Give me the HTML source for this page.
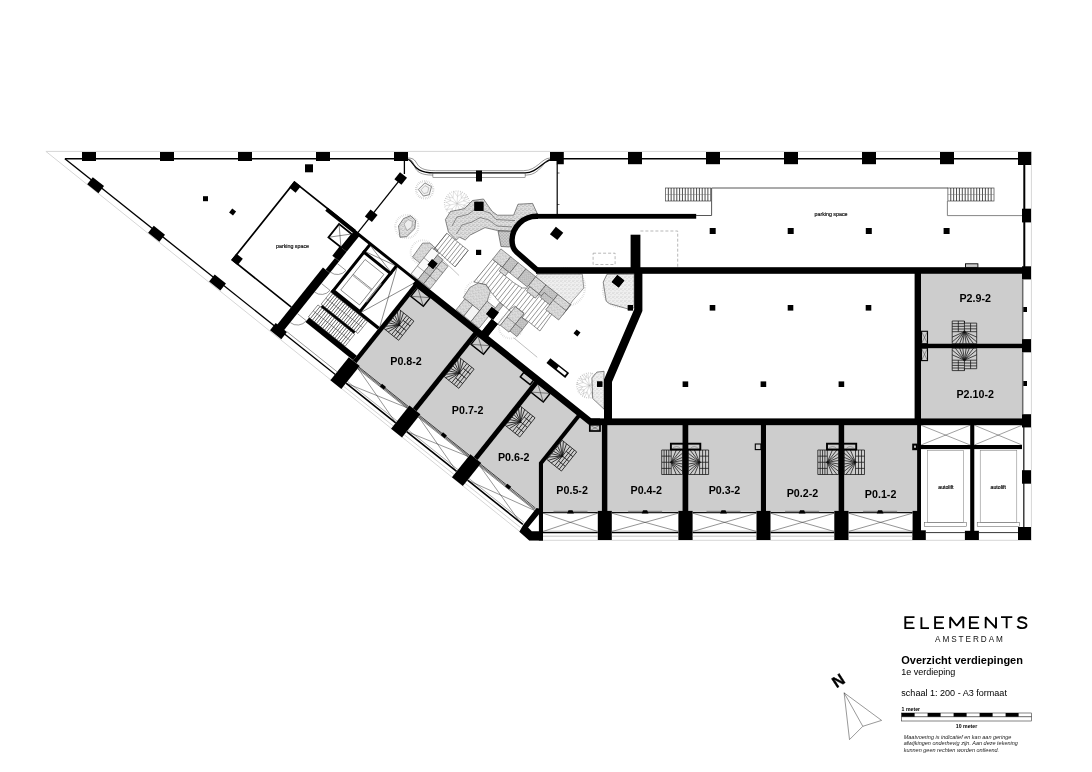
<!DOCTYPE html>
<html><head><meta charset="utf-8"><title>Overzicht verdiepingen</title>
<style>
html,body{margin:0;padding:0;background:#fff;}
body{width:1092px;height:772px;overflow:hidden;}
svg{display:block;font-family:"Liberation Sans",sans-serif;will-change:transform;transform:translateZ(0);}
</style></head><body>
<svg width="1092" height="772" viewBox="0 0 1092 772">
<rect width="1092" height="772" fill="#fff"/>
<rect x="921.00" y="273.80" width="101.50" height="69.90" fill="#cdcdcd" />
<rect x="921.00" y="348.20" width="101.50" height="70.20" fill="#cdcdcd" />
<rect x="607.40" y="425.20" width="75.10" height="86.80" fill="#cdcdcd" />
<rect x="688.30" y="425.20" width="72.60" height="86.80" fill="#cdcdcd" />
<rect x="766.00" y="425.20" width="72.60" height="86.80" fill="#cdcdcd" />
<rect x="844.20" y="425.20" width="72.90" height="86.80" fill="#cdcdcd" />
<g transform="translate(64.9,158.7) rotate(38.6)">
<rect x="355.50" y="-120.00" width="72.00" height="100.50" fill="#cdcdcd" />
<rect x="432.50" y="-120.00" width="73.00" height="100.50" fill="#cdcdcd" />
</g>
<polygon points="538.73,383.41 578.98,415.54 540.30,463.99 540.50,464.00 540.50,511.00 476.03,461.95" fill="#cdcdcd" stroke="none" stroke-width="0" />
<polygon points="541.00,512.00 541.00,464.00 540.30,463.99 578.98,415.54 589.00,423.00 602.00,423.00 602.00,512.00" fill="#cdcdcd" stroke="none" stroke-width="0" />
<!--GARDEN_START-->
<defs><pattern id="spk" width="4" height="4" patternUnits="userSpaceOnUse"><rect width="4" height="4" fill="#dedede"/><circle cx="1" cy="1" r="0.55" fill="#8a8a8a"/><circle cx="3" cy="2.6" r="0.5" fill="#999"/><circle cx="2.2" cy="0.3" r="0.35" fill="#aaa"/><circle cx="0.4" cy="3" r="0.35" fill="#b0b0b0"/></pattern><pattern id="spk2" width="3" height="3" patternUnits="userSpaceOnUse"><rect width="3" height="3" fill="#cccccc"/><circle cx="1" cy="1" r="0.55" fill="#808080"/><circle cx="2.4" cy="2.3" r="0.45" fill="#8c8c8c"/></pattern><pattern id="spk3" width="4" height="4" patternUnits="userSpaceOnUse"><rect width="4" height="4" fill="#efefef"/><circle cx="1" cy="1" r="0.5" fill="#a8a8a8"/><circle cx="3" cy="2.8" r="0.45" fill="#b4b4b4"/><circle cx="2.6" cy="0.6" r="0.3" fill="#bbb"/></pattern></defs>
<path d="M457.0,203.5 L463.7,205.1 M463.7,205.1 L469.7,202.1 M463.7,205.1 L468.3,206.1 M463.7,205.1 L466.5,210.5 M457.0,203.5 L462.7,207.4 M462.7,207.4 L468.9,206.6 M462.7,207.4 L467.6,210.3 M462.7,207.4 L464.0,213.9 M457.0,203.5 L459.5,209.9 M459.5,209.9 L465.6,212.0 M459.5,209.9 L461.7,215.4 M459.5,209.9 L457.3,214.8 M457.0,203.5 L455.3,210.2 M455.3,210.2 L458.1,216.3 M455.3,210.2 L454.0,215.1 M455.3,210.2 L450.5,213.6 M457.0,203.5 L452.4,208.6 M452.4,208.6 L452.7,215.2 M452.4,208.6 L449.3,213.2 M452.4,208.6 L446.0,209.7 M457.0,203.5 L450.3,204.9 M450.3,204.9 L446.5,210.0 M450.3,204.9 L445.3,205.8 M450.3,204.9 L445.7,201.8 M457.0,203.5 L450.7,200.7 M450.7,200.7 L445.6,202.7 M450.7,200.7 L446.0,198.5 M450.7,200.7 L448.7,195.3 M457.0,203.5 L453.0,197.9 M453.0,197.9 L446.8,197.0 M453.0,197.9 L450.3,193.7 M453.0,197.9 L453.6,191.3 M457.0,203.5 L457.5,196.6 M457.5,196.6 L453.9,191.4 M457.5,196.6 L457.9,191.8 M457.5,196.6 L462.1,193.0 M457.0,203.5 L461.4,198.2 M461.4,198.2 L460.8,191.9 M461.4,198.2 L464.6,193.5 M461.4,198.2 L467.6,197.3 M457.0,203.5 L463.4,200.9 M463.4,200.9 L466.4,195.2 M463.4,200.9 L468.4,198.7 M463.4,200.9 L469.8,203.1" fill="none" stroke="#b5b5b5" stroke-width="0.4" />
<circle cx="457" cy="203.5" r="12.5" fill="none" stroke="#b5b5b5" stroke-width="1.2" stroke-dasharray="0.6 1.6"/>
<path d="M589.4,385.5 L596.3,385.8 M596.3,385.8 L600.5,381.9 M596.3,385.8 L601.6,386.1 M596.3,385.8 L600.0,389.9 M589.4,385.5 L594.6,390.0 M594.6,390.0 L601.0,389.6 M594.6,390.0 L598.0,392.9 M594.6,390.0 L595.7,396.2 M589.4,385.5 L591.3,392.1 M591.3,392.1 L596.6,396.1 M591.3,392.1 L592.6,397.2 M591.3,392.1 L588.5,397.2 M589.4,385.5 L587.0,391.9 M587.0,391.9 L589.3,397.7 M587.0,391.9 L584.8,396.8 M587.0,391.9 L581.3,394.4 M589.4,385.5 L584.1,389.8 M584.1,389.8 L583.3,395.4 M584.1,389.8 L580.4,393.7 M584.1,389.8 L578.3,389.8 M589.4,385.5 L582.7,386.9 M582.7,386.9 L578.4,392.4 M582.7,386.9 L578.2,387.8 M582.7,386.9 L576.5,383.8 M589.4,385.5 L583.2,382.5 M583.2,382.5 L577.0,384.2 M583.2,382.5 L579.3,379.7 M583.2,382.5 L580.7,377.1 M589.4,385.5 L585.5,379.8 M585.5,379.8 L580.2,378.7 M585.5,379.8 L582.8,375.7 M585.5,379.8 L586.6,374.6 M589.4,385.5 L588.5,378.7 M588.5,378.7 L583.5,374.6 M588.5,378.7 L587.8,373.9 M588.5,378.7 L592.0,373.0 M589.4,385.5 L593.5,380.0 M593.5,380.0 L593.0,374.4 M593.5,380.0 L597.2,376.3 M593.5,380.0 L599.3,379.1 M589.4,385.5 L595.4,382.1 M595.4,382.1 L597.1,376.6 M595.4,382.1 L599.3,379.7 M595.4,382.1 L600.7,383.3" fill="none" stroke="#a8a8a8" stroke-width="0.4" />
<circle cx="589.4" cy="385.5" r="12.5" fill="none" stroke="#a8a8a8" stroke-width="1.2" stroke-dasharray="0.6 1.6"/>
<circle cx="424.7" cy="189.8" r="8.6" fill="none" stroke="#bbb" stroke-width="2.2" stroke-dasharray="0.5 1.3"/>
<polygon points="418.30,189.50 424.90,182.90 431.50,186.60 429.30,194.70 423.40,196.10" fill="#f2f2f2" stroke="#3a3a3a" stroke-width="0.6" />
<polygon points="421.00,189.80 425.00,185.60 428.80,187.80 427.60,192.60 423.80,193.60" fill="none" stroke="#777" stroke-width="0.4" />
<circle cx="406.8" cy="226.5" r="11.5" fill="none" stroke="#ccc" stroke-width="2.2" stroke-dasharray="0.5 1.3"/>
<polygon points="398.50,226.00 403.50,218.60 410.50,215.70 415.60,220.30 414.90,228.60 406.80,236.60 400.00,237.30" fill="url(#spk)" stroke="#3a3a3a" stroke-width="0.6" />
<polygon points="404.00,224.00 408.00,219.50 412.40,221.50 411.80,227.00 407.00,230.50" fill="#eee" stroke="#666" stroke-width="0.4" />
<polygon points="448.40,232.00 445.40,219.60 450.50,211.50 464.50,208.60 472.50,200.50 483.50,199.00 488.60,206.40 492.30,211.50 497.40,215.20 513.60,215.20 518.00,204.20 532.60,203.40 537.00,213.00 537.00,216.00 520.00,222.00 514.00,231.30 497.40,230.50 485.00,227.60 470.30,235.00 465.20,240.00 459.30,237.10 456.40,240.00" fill="url(#spk)" stroke="#3a3a3a" stroke-width="0.6" />
<polyline points="452.00,226.00 457.00,217.00 468.00,214.50 476.00,208.50 490.00,213.00 496.00,219.50 515.00,220.50" fill="none" stroke="#3a3a3a" stroke-width="0.5" />
<polyline points="456.40,234.00 462.00,225.00 472.00,222.00 480.00,217.50 489.00,220.00 497.00,226.00 512.00,227.00" fill="none" stroke="#3a3a3a" stroke-width="0.5" />
<polygon points="498.00,231.00 514.00,231.50 512.50,243.00 509.50,247.00 501.00,246.50" fill="url(#spk2)" stroke="#3a3a3a" stroke-width="0.6" />
<g transform="translate(64.9,158.7) rotate(38.6)">
<circle cx="338" cy="-150" r="12" fill="none" stroke="#ccc" stroke-width="2" stroke-dasharray="0.5 1.4"/>
<polygon points="333,-140 332.2,-157.2 337.8,-161.7 348.6,-161.1 349,-140" fill="url(#spk)" stroke="#3a3a3a" stroke-width="0.5"/>
<rect x="342.4" y="-159.5" width="8.90" height="33.50" fill="#fafafa" stroke="#3a3a3a" stroke-width="0.5"/>
<rect x="351.3" y="-157" width="7.20" height="31.00" fill="url(#spk2)" stroke="#3a3a3a" stroke-width="0.5"/>
<rect x="358.5" y="-155" width="8.10" height="29.00" fill="url(#spk)" stroke="#3a3a3a" stroke-width="0.5"/>
<line x1="342.40" y1="-136.00" x2="366.60" y2="-136.00" stroke="#3a3a3a" stroke-width="0.4" />
<line x1="342.40" y1="-146.50" x2="366.60" y2="-146.50" stroke="#3a3a3a" stroke-width="0.4" />
<line x1="345.00" y1="-180.00" x2="345.00" y2="-158.80" stroke="#3a3a3a" stroke-width="0.5" />
<line x1="348.42" y1="-180.00" x2="348.42" y2="-158.80" stroke="#3a3a3a" stroke-width="0.5" />
<line x1="351.84" y1="-180.00" x2="351.84" y2="-158.80" stroke="#3a3a3a" stroke-width="0.5" />
<line x1="355.26" y1="-180.00" x2="355.26" y2="-158.80" stroke="#3a3a3a" stroke-width="0.5" />
<line x1="358.68" y1="-180.00" x2="358.68" y2="-158.80" stroke="#3a3a3a" stroke-width="0.5" />
<line x1="362.10" y1="-180.00" x2="362.10" y2="-158.80" stroke="#3a3a3a" stroke-width="0.5" />
<line x1="365.52" y1="-180.00" x2="365.52" y2="-158.80" stroke="#3a3a3a" stroke-width="0.5" />
<line x1="368.94" y1="-180.00" x2="368.94" y2="-158.80" stroke="#3a3a3a" stroke-width="0.5" />
<line x1="372.36" y1="-180.00" x2="372.36" y2="-158.80" stroke="#3a3a3a" stroke-width="0.5" />
<polygon points="345,-180 372.4,-180 372.4,-158.8 345,-160.5" fill="none" stroke="#3a3a3a" stroke-width="0.5"/>
<line x1="350.50" y1="-157.30" x2="381.00" y2="-154.60" stroke="#777" stroke-width="0.4" />
<clipPath id="dk2"><polygon points="396.5,-158.8 397.0,-188.1 409.6,-188.2 415.8,-187.6 417.2,-183.1 427.8,-183.1 438.1,-184.3 443.3,-188.4 454.7,-188.3 458.1,-194.6 469.8,-194.0 477.2,-190.1 478.7,-161.7 463.1,-161.9 456.7,-161.0 454.9,-165.9 443.4,-165.3 441.5,-158.8 428.6,-159.1 415.2,-161.8 407.7,-164.2 400.6,-160.7"/></clipPath><g clip-path="url(#dk2)">
<line x1="396.50" y1="-200.00" x2="396.50" y2="-150.00" stroke="#3a3a3a" stroke-width="0.5" />
<line x1="400.25" y1="-200.00" x2="400.25" y2="-150.00" stroke="#3a3a3a" stroke-width="0.5" />
<line x1="404.00" y1="-200.00" x2="404.00" y2="-150.00" stroke="#3a3a3a" stroke-width="0.5" />
<line x1="407.75" y1="-200.00" x2="407.75" y2="-150.00" stroke="#3a3a3a" stroke-width="0.5" />
<line x1="411.50" y1="-200.00" x2="411.50" y2="-150.00" stroke="#3a3a3a" stroke-width="0.5" />
<line x1="415.25" y1="-200.00" x2="415.25" y2="-150.00" stroke="#3a3a3a" stroke-width="0.5" />
<line x1="419.00" y1="-200.00" x2="419.00" y2="-150.00" stroke="#3a3a3a" stroke-width="0.5" />
<line x1="422.75" y1="-200.00" x2="422.75" y2="-150.00" stroke="#3a3a3a" stroke-width="0.5" />
<line x1="426.50" y1="-200.00" x2="426.50" y2="-150.00" stroke="#3a3a3a" stroke-width="0.5" />
<line x1="430.25" y1="-200.00" x2="430.25" y2="-150.00" stroke="#3a3a3a" stroke-width="0.5" />
<line x1="434.00" y1="-200.00" x2="434.00" y2="-150.00" stroke="#3a3a3a" stroke-width="0.5" />
<line x1="437.75" y1="-200.00" x2="437.75" y2="-150.00" stroke="#3a3a3a" stroke-width="0.5" />
<line x1="441.50" y1="-200.00" x2="441.50" y2="-150.00" stroke="#3a3a3a" stroke-width="0.5" />
<line x1="445.25" y1="-200.00" x2="445.25" y2="-150.00" stroke="#3a3a3a" stroke-width="0.5" />
<line x1="449.00" y1="-200.00" x2="449.00" y2="-150.00" stroke="#3a3a3a" stroke-width="0.5" />
<line x1="452.75" y1="-200.00" x2="452.75" y2="-150.00" stroke="#3a3a3a" stroke-width="0.5" />
<line x1="456.50" y1="-200.00" x2="456.50" y2="-150.00" stroke="#3a3a3a" stroke-width="0.5" />
<line x1="460.25" y1="-200.00" x2="460.25" y2="-150.00" stroke="#3a3a3a" stroke-width="0.5" />
<line x1="464.00" y1="-200.00" x2="464.00" y2="-150.00" stroke="#3a3a3a" stroke-width="0.5" />
<line x1="467.75" y1="-200.00" x2="467.75" y2="-150.00" stroke="#3a3a3a" stroke-width="0.5" />
<line x1="471.50" y1="-200.00" x2="471.50" y2="-150.00" stroke="#3a3a3a" stroke-width="0.5" />
<line x1="475.25" y1="-200.00" x2="475.25" y2="-150.00" stroke="#3a3a3a" stroke-width="0.5" />
<line x1="479.00" y1="-200.00" x2="479.00" y2="-150.00" stroke="#3a3a3a" stroke-width="0.5" />
</g>
<polygon points="396.5,-158.8 397.0,-188.1 409.6,-188.2 415.8,-187.6 417.2,-183.1 427.8,-183.1 438.1,-184.3 443.3,-188.4 454.7,-188.3 458.1,-194.6 469.8,-194.0 477.2,-190.1 478.7,-161.7 463.1,-161.9 456.7,-161.0 454.9,-165.9 443.4,-165.3 441.5,-158.8 428.6,-159.1 415.2,-161.8 407.7,-164.2 400.6,-160.7" fill="none" stroke="#3a3a3a" stroke-width="0.5"/>
<rect x="397" y="-201.5" width="12.60" height="13.20" fill="url(#spk)" stroke="#3a3a3a" stroke-width="0.5"/>
<rect x="409.6" y="-201.5" width="9.40" height="13.20" fill="url(#spk2)" stroke="#3a3a3a" stroke-width="0.5"/>
<rect x="419" y="-201.5" width="10.00" height="13.20" fill="url(#spk)" stroke="#3a3a3a" stroke-width="0.5"/>
<rect x="429" y="-201.5" width="12.60" height="13.20" fill="url(#spk2)" stroke="#3a3a3a" stroke-width="0.5"/>
<rect x="441.6" y="-201.5" width="13.10" height="11.50" fill="url(#spk)" stroke="#3a3a3a" stroke-width="0.5"/>
<rect x="454.7" y="-201.5" width="15.30" height="11.50" fill="url(#spk2)" stroke="#3a3a3a" stroke-width="0.5"/>
<rect x="470" y="-201.5" width="16.50" height="13.20" fill="url(#spk)" stroke="#3a3a3a" stroke-width="0.5"/>
<rect x="409.6" y="-188.2" width="7.60" height="5.10" fill="url(#spk)" stroke="#3a3a3a" stroke-width="0.5"/>
<rect x="443.3" y="-190" width="11.40" height="5.50" fill="url(#spk)" stroke="#3a3a3a" stroke-width="0.5"/>
<rect x="458" y="-194.5" width="12.00" height="6.20" fill="url(#spk2)" stroke="#3a3a3a" stroke-width="0.5"/>
<rect x="470" y="-194" width="16.50" height="12.00" fill="url(#spk)" stroke="#3a3a3a" stroke-width="0.5"/>
<circle cx="407" cy="-152" r="13" fill="none" stroke="#ccc" stroke-width="2" stroke-dasharray="0.5 1.4"/>
<polygon points="398,-140 396.8,-152 400.6,-160.7 407.7,-164.2 415.2,-161.8 419,-152 419,-140" fill="url(#spk)" stroke="#3a3a3a" stroke-width="0.5"/>
<rect x="400" y="-140" width="10.00" height="14.00" fill="url(#spk)" stroke="#3a3a3a" stroke-width="0.5"/>
<rect x="410" y="-140" width="9.00" height="14.00" fill="#f4f4f4" stroke="#3a3a3a" stroke-width="0.5"/>
<rect x="419" y="-152" width="10.50" height="26.00" fill="url(#spk)" stroke="#3a3a3a" stroke-width="0.5"/>
<rect x="429.5" y="-158.8" width="4.50" height="17.80" fill="url(#spk2)" stroke="#3a3a3a" stroke-width="0.5"/>
<circle cx="453" cy="-147" r="12" fill="none" stroke="#ccc" stroke-width="2" stroke-dasharray="0.5 1.4"/>
<rect x="441.5" y="-158.8" width="2.80" height="17.80" fill="#f6f6f6" stroke="#3a3a3a" stroke-width="0.5"/>
<rect x="444.3" y="-165.3" width="11.00" height="23.80" fill="url(#spk)" stroke="#3a3a3a" stroke-width="0.5"/>
<rect x="455.3" y="-161" width="8.80" height="18.00" fill="url(#spk2)" stroke="#3a3a3a" stroke-width="0.5"/>
<line x1="444.30" y1="-152.00" x2="464.00" y2="-152.00" stroke="#3a3a3a" stroke-width="0.4" />
<line x1="463.00" y1="-140.00" x2="493.00" y2="-139.50" stroke="#888" stroke-width="0.5" />
</g>
<circle cx="566" cy="287" r="19" fill="none" stroke="#ccc" stroke-width="2.2" stroke-dasharray="0.5 1.3"/>
<polygon points="537.70,274.20 582.30,274.20 583.80,288.10 572.80,300.50 566.14,310.60 570.82,304.74 535.73,276.73" fill="url(#spk3)" stroke="#3a3a3a" stroke-width="0.5" />
<circle cx="620" cy="290" r="17" fill="none" stroke="#ccc" stroke-width="2.2" stroke-dasharray="0.5 1.3"/>
<polygon points="603.20,282.10 606.20,301.10 609.40,303.60 629.20,309.30 634.20,307.70 634.20,274.20 607.00,274.20" fill="url(#spk3)" stroke="#3a3a3a" stroke-width="0.6" />
<polygon points="591.90,377.90 596.90,372.10 604.00,371.30 604.00,409.20 592.70,398.50" fill="url(#spk3)" stroke="#3a3a3a" stroke-width="0.6" />
<!--GARDEN_END-->
<polyline points="529.00,540.30 1031.40,540.30 1031.40,151.40 45.90,151.40 519.69,531.48" fill="none" stroke="#d6d6d6" stroke-width="1" />
<line x1="64.90" y1="158.70" x2="404.50" y2="158.70" stroke="#000" stroke-width="1.5" />
<line x1="556.00" y1="158.70" x2="1024.00" y2="158.70" stroke="#000" stroke-width="1.5" />
<rect x="82.00" y="152.00" width="14.00" height="9.00" fill="#000" />
<rect x="160.00" y="152.00" width="14.00" height="9.00" fill="#000" />
<rect x="238.00" y="152.00" width="14.00" height="9.00" fill="#000" />
<rect x="316.00" y="152.00" width="14.00" height="9.00" fill="#000" />
<rect x="394.00" y="152.00" width="14.00" height="9.00" fill="#000" />
<rect x="628.00" y="152.00" width="14.00" height="12.20" fill="#000" />
<rect x="706.00" y="152.00" width="14.00" height="12.20" fill="#000" />
<rect x="784.00" y="152.00" width="14.00" height="12.20" fill="#000" />
<rect x="862.00" y="152.00" width="14.00" height="12.20" fill="#000" />
<rect x="940.00" y="152.00" width="14.00" height="12.20" fill="#000" />
<polygon points="550.00,152.00 563.80,152.00 563.80,164.20 556.50,164.20 556.50,161.00 550.00,161.00" fill="#000" stroke="none" stroke-width="0" />
<rect x="1018.00" y="152.00" width="13.20" height="13.00" fill="#000" />
<path d="M404.5,158.7 C416.0,158.7 409.5,172.9 434,172.9 L525,172.9 C538.5,172.9 543,158.7 556,158.7" fill="none" stroke="#000" stroke-width="1.3" />
<path d="M408,158.04 C421.0,158.04 411.0,170.70000000000002 435.5,170.70000000000002 L523.5,170.70000000000002 C537.0,170.70000000000002 541.5,158.04 550,158.04" fill="none" stroke="#333" stroke-width="0.5" />
<path d="M408,159.35999999999999 C418.0,159.35999999999999 408.0,175.1 432.5,175.1 L526.5,175.1 C540.0,175.1 544.5,159.35999999999999 550,159.35999999999999" fill="none" stroke="#333" stroke-width="0.5" />
<rect x="432.9" y="173.7" width="92.2" height="3.8" fill="#fff" stroke="#444" stroke-width="0.5"/>
<rect x="476.00" y="170.50" width="6.00" height="11.00" fill="#000" />
<line x1="557.20" y1="164.00" x2="557.20" y2="214.00" stroke="#000" stroke-width="1.2" />
<line x1="557.10" y1="173.00" x2="559.50" y2="173.00" stroke="#000" stroke-width="0.6" />
<line x1="557.10" y1="204.50" x2="559.50" y2="204.50" stroke="#000" stroke-width="0.6" />
<line x1="404.40" y1="161.00" x2="404.40" y2="174.00" stroke="#000" stroke-width="1.3" />
<line x1="1024.30" y1="165.00" x2="1024.30" y2="267.00" stroke="#000" stroke-width="2" />
<line x1="1023.80" y1="427.00" x2="1023.80" y2="527.00" stroke="#222" stroke-width="1.3" />
<rect x="1022.00" y="208.70" width="9.00" height="13.70" fill="#000" />
<rect x="1022.00" y="266.30" width="9.00" height="13.10" fill="#000" />
<rect x="1022.00" y="339.10" width="9.00" height="13.20" fill="#000" />
<rect x="1022.00" y="414.20" width="9.00" height="13.20" fill="#000" />
<rect x="1022.00" y="470.20" width="9.00" height="13.50" fill="#000" />
<rect x="1018.00" y="527.00" width="13.00" height="13.00" fill="#000" />
<rect x="1022.50" y="307.00" width="4.50" height="5.00" fill="#000" />
<rect x="1022.50" y="381.00" width="4.50" height="5.00" fill="#000" />
<line x1="1022.70" y1="279.00" x2="1022.70" y2="339.00" stroke="#6a6a6a" stroke-width="1.5" />
<line x1="1022.70" y1="352.00" x2="1022.70" y2="414.00" stroke="#6a6a6a" stroke-width="1.5" />
<rect x="536.00" y="267.20" width="486.50" height="6.60" fill="#000" />
<rect x="537.00" y="213.90" width="159.20" height="4.80" fill="#000" />
<path d="M538,216.3 H537 A24.6,24.6 0 0 0 512,240 C512,246 513,249 516.5,252 L538.5,271.3" fill="none" stroke="#000" stroke-width="5.5" stroke-linecap="butt"/>
<rect x="630.60" y="234.70" width="9.80" height="33.30" fill="#000" />
<polygon points="634.20,273.00 642.40,273.00 642.40,311.00 612.00,382.00 612.00,419.00 604.00,419.00 604.00,379.60 634.20,309.30" fill="#000" stroke="none" stroke-width="0" />
<rect x="914.60" y="273.00" width="6.40" height="146.00" fill="#000" />
<rect x="589.00" y="418.40" width="433.50" height="6.80" fill="#000" />
<rect x="921.00" y="343.70" width="101.50" height="4.50" fill="#000" />
<rect x="601.90" y="425.00" width="5.50" height="87.00" fill="#000" />
<rect x="682.50" y="425.00" width="5.80" height="87.00" fill="#000" />
<rect x="760.90" y="425.00" width="5.10" height="87.00" fill="#000" />
<rect x="838.60" y="425.00" width="5.60" height="87.00" fill="#000" />
<rect x="917.10" y="425.00" width="3.90" height="106.00" fill="#000" />
<rect x="597.80" y="510.90" width="14.00" height="29.10" fill="#000" />
<rect x="678.40" y="510.90" width="14.20" height="29.10" fill="#000" />
<rect x="756.50" y="510.90" width="14.00" height="29.10" fill="#000" />
<rect x="834.30" y="510.90" width="14.20" height="29.10" fill="#000" />
<rect x="912.60" y="510.90" width="8.40" height="29.10" fill="#000" />
<rect x="912.60" y="530.30" width="13.20" height="9.70" fill="#000" />
<rect x="970.20" y="425.00" width="4.10" height="106.00" fill="#000" />
<rect x="964.90" y="530.80" width="14.00" height="9.20" fill="#000" />
<rect x="921.00" y="445.00" width="101.00" height="4.10" fill="#000" />
<g transform="translate(64.9,158.7) rotate(38.6)">
<line x1="0.00" y1="0.00" x2="346.00" y2="0.00" stroke="#000" stroke-width="1.35" />
<rect x="33.30" y="-3.00" width="14.40" height="9.00" fill="#000" />
<rect x="111.30" y="-3.00" width="14.40" height="9.00" fill="#000" />
<rect x="189.30" y="-3.00" width="14.40" height="9.00" fill="#000" />
<rect x="267.30" y="-3.00" width="14.40" height="9.00" fill="#000" />
<rect x="345.70" y="-22.00" width="14.00" height="29.50" fill="#000" />
<rect x="423.30" y="-22.00" width="14.00" height="29.50" fill="#000" />
<rect x="501.20" y="-22.00" width="14.00" height="29.50" fill="#000" />
<rect x="269.50" y="-76.00" width="8.80" height="76.00" fill="#000" />
<rect x="273.00" y="-91.00" width="5.30" height="15.00" fill="#000" />
<rect x="269.50" y="-103.00" width="8.80" height="12.00" fill="#000" />
<rect x="271.20" y="-125.00" width="7.10" height="22.00" fill="#000" />
<polyline points="272.00,-124.90 194.00,-124.90 194.00,-25.30 269.50,-25.30" fill="none" stroke="#000" stroke-width="1.7" />
<rect x="236.00" y="-125.70" width="36.00" height="4.00" fill="#000" />
<rect x="193.2" y="-125.7" width="8.3" height="8.3"/>
<rect x="193.2" y="-32.8" width="8.3" height="8.3"/>
<rect x="255" y="-120" width="16.5" height="17" fill="#fff" stroke="#000" stroke-width="1.8"/>
<line x1="255.00" y1="-120.00" x2="271.00" y2="-103.00" stroke="#2a2a2a" stroke-width="0.5" />
<line x1="255.00" y1="-103.00" x2="271.00" y2="-120.00" stroke="#2a2a2a" stroke-width="0.5" />
<line x1="275.00" y1="-125.00" x2="275.00" y2="-194.00" stroke="#000" stroke-width="1.3" />
<rect x="270.5" y="-151" width="9" height="9"/>
<rect x="270.3" y="-198.5" width="9" height="9"/>
<rect x="272.00" y="-125.50" width="80.00" height="3.00" fill="#000" />
<!--UPPERWALL-->
<path d="M292,-123 V-64.5 H326 V-123" fill="none" stroke="#000" stroke-width="3" />
<rect x="290.50" y="-115.00" width="37.00" height="3.00" fill="#000" />
<line x1="293.50" y1="-122.50" x2="324.50" y2="-115.00" stroke="#2a2a2a" stroke-width="0.5" />
<line x1="293.50" y1="-115.00" x2="324.50" y2="-122.50" stroke="#2a2a2a" stroke-width="0.5" />
<rect x="297.5" y="-108.5" width="24" height="39" fill="none" stroke="#2a2a2a" stroke-width="0.5"/>
<line x1="297.50" y1="-89.50" x2="321.50" y2="-89.50" stroke="#2a2a2a" stroke-width="0.5" />
<line x1="297.50" y1="-88.30" x2="321.50" y2="-88.30" stroke="#2a2a2a" stroke-width="0.4" />
<line x1="325.00" y1="-100.00" x2="325.00" y2="-76.00" stroke="#888" stroke-width="1.2" />
<line x1="327.50" y1="-122.00" x2="351.00" y2="-65.00" stroke="#2a2a2a" stroke-width="0.5" />
<line x1="327.50" y1="-65.00" x2="351.00" y2="-122.00" stroke="#2a2a2a" stroke-width="0.5" />
<rect x="290.50" y="-65.00" width="60.50" height="3.50" fill="#000" />
<rect x="292.50" y="-46.20" width="42.50" height="2.60" fill="#000" />
<rect x="290.00" y="-28.20" width="61.00" height="5.80" fill="#000" />
<rect x="291" y="-61.5" width="47" height="15.3" fill="none" stroke="#2a2a2a" stroke-width="0.5"/>
<rect x="289" y="-43.6" width="47" height="15.4" fill="none" stroke="#2a2a2a" stroke-width="0.5"/>
<line x1="293.61" y1="-61.50" x2="293.61" y2="-46.20" stroke="#111" stroke-width="0.6" />
<line x1="296.22" y1="-61.50" x2="296.22" y2="-46.20" stroke="#111" stroke-width="0.6" />
<line x1="298.83" y1="-61.50" x2="298.83" y2="-46.20" stroke="#111" stroke-width="0.6" />
<line x1="301.44" y1="-61.50" x2="301.44" y2="-46.20" stroke="#111" stroke-width="0.6" />
<line x1="304.06" y1="-61.50" x2="304.06" y2="-46.20" stroke="#111" stroke-width="0.6" />
<line x1="306.67" y1="-61.50" x2="306.67" y2="-46.20" stroke="#111" stroke-width="0.6" />
<line x1="309.28" y1="-61.50" x2="309.28" y2="-46.20" stroke="#111" stroke-width="0.6" />
<line x1="311.89" y1="-61.50" x2="311.89" y2="-46.20" stroke="#111" stroke-width="0.6" />
<line x1="314.50" y1="-61.50" x2="314.50" y2="-46.20" stroke="#111" stroke-width="0.6" />
<line x1="317.11" y1="-61.50" x2="317.11" y2="-46.20" stroke="#111" stroke-width="0.6" />
<line x1="319.72" y1="-61.50" x2="319.72" y2="-46.20" stroke="#111" stroke-width="0.6" />
<line x1="322.33" y1="-61.50" x2="322.33" y2="-46.20" stroke="#111" stroke-width="0.6" />
<line x1="324.94" y1="-61.50" x2="324.94" y2="-46.20" stroke="#111" stroke-width="0.6" />
<line x1="327.56" y1="-61.50" x2="327.56" y2="-46.20" stroke="#111" stroke-width="0.6" />
<line x1="330.17" y1="-61.50" x2="330.17" y2="-46.20" stroke="#111" stroke-width="0.6" />
<line x1="332.78" y1="-61.50" x2="332.78" y2="-46.20" stroke="#111" stroke-width="0.6" />
<line x1="335.39" y1="-61.50" x2="335.39" y2="-46.20" stroke="#111" stroke-width="0.6" />
<line x1="291.61" y1="-43.60" x2="291.61" y2="-28.20" stroke="#111" stroke-width="0.6" />
<line x1="294.22" y1="-43.60" x2="294.22" y2="-28.20" stroke="#111" stroke-width="0.6" />
<line x1="296.83" y1="-43.60" x2="296.83" y2="-28.20" stroke="#111" stroke-width="0.6" />
<line x1="299.44" y1="-43.60" x2="299.44" y2="-28.20" stroke="#111" stroke-width="0.6" />
<line x1="302.06" y1="-43.60" x2="302.06" y2="-28.20" stroke="#111" stroke-width="0.6" />
<line x1="304.67" y1="-43.60" x2="304.67" y2="-28.20" stroke="#111" stroke-width="0.6" />
<line x1="307.28" y1="-43.60" x2="307.28" y2="-28.20" stroke="#111" stroke-width="0.6" />
<line x1="309.89" y1="-43.60" x2="309.89" y2="-28.20" stroke="#111" stroke-width="0.6" />
<line x1="312.50" y1="-43.60" x2="312.50" y2="-28.20" stroke="#111" stroke-width="0.6" />
<line x1="315.11" y1="-43.60" x2="315.11" y2="-28.20" stroke="#111" stroke-width="0.6" />
<line x1="317.72" y1="-43.60" x2="317.72" y2="-28.20" stroke="#111" stroke-width="0.6" />
<line x1="320.33" y1="-43.60" x2="320.33" y2="-28.20" stroke="#111" stroke-width="0.6" />
<line x1="322.94" y1="-43.60" x2="322.94" y2="-28.20" stroke="#111" stroke-width="0.6" />
<line x1="325.56" y1="-43.60" x2="325.56" y2="-28.20" stroke="#111" stroke-width="0.6" />
<line x1="328.17" y1="-43.60" x2="328.17" y2="-28.20" stroke="#111" stroke-width="0.6" />
<line x1="330.78" y1="-43.60" x2="330.78" y2="-28.20" stroke="#111" stroke-width="0.6" />
<line x1="333.39" y1="-43.60" x2="333.39" y2="-28.20" stroke="#111" stroke-width="0.6" />
<line x1="291.00" y1="-53.80" x2="338.00" y2="-53.80" stroke="#2a2a2a" stroke-width="0.4" />
<line x1="289.00" y1="-36.00" x2="336.00" y2="-36.00" stroke="#2a2a2a" stroke-width="0.4" />
<rect x="351.00" y="-122.00" width="4.50" height="100.00" fill="#000" />
<rect x="427.50" y="-120.00" width="5.00" height="98.00" fill="#000" />
<rect x="505.50" y="-120.00" width="5.00" height="98.00" fill="#000" />
<rect x="560.00" y="-120.00" width="4.00" height="62.00" fill="#000" />
<rect x="433.50" y="-141.00" width="8.00" height="16.00" fill="#000" />
<rect x="426.1" y="-150.4" width="9" height="9"/>
<rect x="349.6" y="-150.5" width="7" height="7"/>
<rect x="503.8" y="-147" width="24" height="6.2"/>
<rect x="515.5" y="-145.6" width="10.5" height="3.2" fill="#fff"/>
<rect x="356.2" y="-119.3" width="16" height="11" fill="#cdcdcd" stroke="#000" stroke-width="1.4"/>
<line x1="356.20" y1="-119.30" x2="372.20" y2="-108.30" stroke="#2a2a2a" stroke-width="0.5" />
<line x1="356.20" y1="-108.30" x2="372.20" y2="-119.30" stroke="#2a2a2a" stroke-width="0.5" />
<rect x="433.2" y="-119.3" width="16" height="11" fill="#cdcdcd" stroke="#000" stroke-width="1.4"/>
<line x1="433.20" y1="-119.30" x2="449.20" y2="-108.30" stroke="#2a2a2a" stroke-width="0.5" />
<line x1="433.20" y1="-108.30" x2="449.20" y2="-119.30" stroke="#2a2a2a" stroke-width="0.5" />
<rect x="509.7" y="-119.3" width="16" height="11" fill="#cdcdcd" stroke="#000" stroke-width="1.4"/>
<line x1="509.70" y1="-119.30" x2="525.70" y2="-108.30" stroke="#2a2a2a" stroke-width="0.5" />
<line x1="509.70" y1="-108.30" x2="525.70" y2="-119.30" stroke="#2a2a2a" stroke-width="0.5" />
</g>
<g transform="translate(64.9,158.7) rotate(38.6)">
<g transform="matrix(0,1,-1,0,374.1,-90.8)" fill="none" stroke="#111" stroke-width="0.75">
<path d="M0,0 H12.25 V0 H24.5 V18.6 H0 Z M12.25,0 V9.000000000000002 M0,3.00 H12.25 M0,6.00 H12.25 M0,9.00 H12.25 M12.25,3.00 H24.5 M12.25,6.00 H24.5 M12.25,9.00 H24.5 M6.125,0 V9.000000000000002 M18.375,0 V9.000000000000002 M12.25,9.00 L0.00,13.32 M12.25,9.00 L0.00,17.16 M12.25,9.00 L3.19,18.60 M12.25,9.00 L7.35,18.60 M12.25,9.00 L10.54,18.60 M12.25,9.00 L13.96,18.60 M12.25,9.00 L17.15,18.60 M12.25,9.00 L21.32,18.60 M12.25,9.00 L24.50,17.16 M12.25,9.00 L24.50,13.32"/>
<circle cx="12.25" cy="9.00" r="1.1" fill="#111" stroke="none"/>
</g>
<g transform="matrix(0,1,-1,0,451.1,-90.8)" fill="none" stroke="#111" stroke-width="0.75">
<path d="M0,0 H12.25 V0 H24.5 V18.6 H0 Z M12.25,0 V9.000000000000002 M0,3.00 H12.25 M0,6.00 H12.25 M0,9.00 H12.25 M12.25,3.00 H24.5 M12.25,6.00 H24.5 M12.25,9.00 H24.5 M6.125,0 V9.000000000000002 M18.375,0 V9.000000000000002 M12.25,9.00 L0.00,13.32 M12.25,9.00 L0.00,17.16 M12.25,9.00 L3.19,18.60 M12.25,9.00 L7.35,18.60 M12.25,9.00 L10.54,18.60 M12.25,9.00 L13.96,18.60 M12.25,9.00 L17.15,18.60 M12.25,9.00 L21.32,18.60 M12.25,9.00 L24.50,17.16 M12.25,9.00 L24.50,13.32"/>
<circle cx="12.25" cy="9.00" r="1.1" fill="#111" stroke="none"/>
</g>
<g transform="matrix(0,1,-1,0,529.1,-90.8)" fill="none" stroke="#111" stroke-width="0.75">
<path d="M0,0 H12.25 V0 H24.5 V18.6 H0 Z M12.25,0 V9.000000000000002 M0,3.00 H12.25 M0,6.00 H12.25 M0,9.00 H12.25 M12.25,3.00 H24.5 M12.25,6.00 H24.5 M12.25,9.00 H24.5 M6.125,0 V9.000000000000002 M18.375,0 V9.000000000000002 M12.25,9.00 L0.00,13.32 M12.25,9.00 L0.00,17.16 M12.25,9.00 L3.19,18.60 M12.25,9.00 L7.35,18.60 M12.25,9.00 L10.54,18.60 M12.25,9.00 L13.96,18.60 M12.25,9.00 L17.15,18.60 M12.25,9.00 L21.32,18.60 M12.25,9.00 L24.50,17.16 M12.25,9.00 L24.50,13.32"/>
<circle cx="12.25" cy="9.00" r="1.1" fill="#111" stroke="none"/>
</g>
<rect x="492" y="-119.3" width="12.5" height="5.6" fill="#cdcdcd" stroke="#000" stroke-width="1.5"/>
<line x1="359.70" y1="0.00" x2="423.30" y2="0.00" stroke="#000" stroke-width="1.6" />
<line x1="359.70" y1="4.00" x2="423.30" y2="4.00" stroke="#aaa" stroke-width="0.5" />
<line x1="359.70" y1="-2.20" x2="423.30" y2="-2.20" stroke="#444" stroke-width="0.4" />
<line x1="359.70" y1="-20.60" x2="423.30" y2="-20.60" stroke="#111" stroke-width="0.7" />
<line x1="359.70" y1="-19.40" x2="423.30" y2="-19.40" stroke="#666" stroke-width="1.0" />
<line x1="359.70" y1="-18.40" x2="423.30" y2="-18.40" stroke="#222" stroke-width="0.5" />
<line x1="359.70" y1="-19.00" x2="423.30" y2="0.00" stroke="#2a2a2a" stroke-width="0.45" />
<line x1="359.70" y1="0.00" x2="423.30" y2="-19.00" stroke="#2a2a2a" stroke-width="0.45" />
<line x1="437.30" y1="0.00" x2="501.20" y2="0.00" stroke="#000" stroke-width="1.6" />
<line x1="437.30" y1="4.00" x2="501.20" y2="4.00" stroke="#aaa" stroke-width="0.5" />
<line x1="437.30" y1="-2.20" x2="501.20" y2="-2.20" stroke="#444" stroke-width="0.4" />
<line x1="437.30" y1="-20.60" x2="501.20" y2="-20.60" stroke="#111" stroke-width="0.7" />
<line x1="437.30" y1="-19.40" x2="501.20" y2="-19.40" stroke="#666" stroke-width="1.0" />
<line x1="437.30" y1="-18.40" x2="501.20" y2="-18.40" stroke="#222" stroke-width="0.5" />
<line x1="437.30" y1="-19.00" x2="501.20" y2="0.00" stroke="#2a2a2a" stroke-width="0.45" />
<line x1="437.30" y1="0.00" x2="501.20" y2="-19.00" stroke="#2a2a2a" stroke-width="0.45" />
<line x1="515.20" y1="0.00" x2="586.00" y2="0.00" stroke="#000" stroke-width="1.6" />
<line x1="515.20" y1="4.00" x2="586.00" y2="4.00" stroke="#aaa" stroke-width="0.5" />
<line x1="515.20" y1="-2.20" x2="586.00" y2="-2.20" stroke="#444" stroke-width="0.4" />
<line x1="515.20" y1="-20.60" x2="586.00" y2="-20.60" stroke="#111" stroke-width="0.7" />
<line x1="515.20" y1="-19.40" x2="586.00" y2="-19.40" stroke="#666" stroke-width="1.0" />
<line x1="515.20" y1="-18.40" x2="586.00" y2="-18.40" stroke="#222" stroke-width="0.5" />
<line x1="515.20" y1="-19.00" x2="582.00" y2="0.00" stroke="#2a2a2a" stroke-width="0.45" />
<line x1="515.20" y1="0.00" x2="590.00" y2="-19.00" stroke="#2a2a2a" stroke-width="0.45" />
<rect x="388.30" y="-22.00" width="5.00" height="3.50" fill="#000" />
<rect x="466.20" y="-22.00" width="5.00" height="3.50" fill="#000" />
<rect x="548.50" y="-22.00" width="5.00" height="3.50" fill="#000" />
<line x1="281.50" y1="-3.30" x2="346.00" y2="-3.30" stroke="#444" stroke-width="0.5" />
</g>
<polygon points="416.79,278.90 591.54,418.40 600.00,418.40 600.00,425.20 589.48,425.20 412.67,284.06" fill="#000" stroke="none" stroke-width="0" />
<rect x="538.90" y="463.00" width="4.10" height="77.50" fill="#000" />
<polygon points="519.30,531.80 529.20,540.50 543.00,540.50 543.00,531.20 531.80,531.20 528.10,527.60 539.00,514.20 539.00,508.50 536.50,508.00 523.20,525.00" fill="#000" stroke="none" stroke-width="0" />
<g transform="translate(561.8,455.7) rotate(38.6)">
<g transform="matrix(0,1,-1,0,9.3,-12.25)" fill="none" stroke="#111" stroke-width="0.75">
<path d="M0,0 H12.25 V0 H24.5 V18.6 H0 Z M12.25,0 V8.600000000000001 M0,2.87 H12.25 M0,5.73 H12.25 M0,8.60 H12.25 M12.25,2.87 H24.5 M12.25,5.73 H24.5 M12.25,8.60 H24.5 M6.125,0 V8.600000000000001 M18.375,0 V8.600000000000001 M12.25,8.60 L0.00,13.10 M12.25,8.60 L0.00,17.10 M12.25,8.60 L3.19,18.60 M12.25,8.60 L7.35,18.60 M12.25,8.60 L10.54,18.60 M12.25,8.60 L13.96,18.60 M12.25,8.60 L17.15,18.60 M12.25,8.60 L21.32,18.60 M12.25,8.60 L24.50,17.10 M12.25,8.60 L24.50,13.10"/>
<circle cx="12.25" cy="8.60" r="1.1" fill="#111" stroke="none"/>
</g>
</g>
<rect x="589.8" y="424.8" width="10.2" height="6.2" fill="#cdcdcd" stroke="#000" stroke-width="1.7"/>
<line x1="590.50" y1="425.50" x2="599.30" y2="430.30" stroke="#2a2a2a" stroke-width="0.4" />
<line x1="590.50" y1="430.30" x2="599.30" y2="425.50" stroke="#2a2a2a" stroke-width="0.4" />
<line x1="543.00" y1="512.60" x2="597.80" y2="512.60" stroke="#111" stroke-width="1.1" />
<line x1="543.00" y1="513.20" x2="597.80" y2="531.50" stroke="#2a2a2a" stroke-width="0.5" />
<line x1="543.00" y1="531.50" x2="597.80" y2="513.20" stroke="#2a2a2a" stroke-width="0.5" />
<line x1="543.00" y1="531.20" x2="597.80" y2="531.20" stroke="#666" stroke-width="0.5" />
<line x1="543.00" y1="532.60" x2="597.80" y2="532.60" stroke="#000" stroke-width="1.1" />
<line x1="543.00" y1="536.20" x2="597.80" y2="536.20" stroke="#9a9a9a" stroke-width="0.6" />
<line x1="611.80" y1="512.60" x2="678.40" y2="512.60" stroke="#111" stroke-width="1.1" />
<line x1="611.80" y1="513.20" x2="678.40" y2="531.50" stroke="#2a2a2a" stroke-width="0.5" />
<line x1="611.80" y1="531.50" x2="678.40" y2="513.20" stroke="#2a2a2a" stroke-width="0.5" />
<line x1="611.80" y1="531.20" x2="678.40" y2="531.20" stroke="#666" stroke-width="0.5" />
<line x1="611.80" y1="532.60" x2="678.40" y2="532.60" stroke="#000" stroke-width="1.1" />
<line x1="611.80" y1="536.20" x2="678.40" y2="536.20" stroke="#9a9a9a" stroke-width="0.6" />
<line x1="692.60" y1="512.60" x2="756.50" y2="512.60" stroke="#111" stroke-width="1.1" />
<line x1="692.60" y1="513.20" x2="756.50" y2="531.50" stroke="#2a2a2a" stroke-width="0.5" />
<line x1="692.60" y1="531.50" x2="756.50" y2="513.20" stroke="#2a2a2a" stroke-width="0.5" />
<line x1="692.60" y1="531.20" x2="756.50" y2="531.20" stroke="#666" stroke-width="0.5" />
<line x1="692.60" y1="532.60" x2="756.50" y2="532.60" stroke="#000" stroke-width="1.1" />
<line x1="692.60" y1="536.20" x2="756.50" y2="536.20" stroke="#9a9a9a" stroke-width="0.6" />
<line x1="770.50" y1="512.60" x2="834.30" y2="512.60" stroke="#111" stroke-width="1.1" />
<line x1="770.50" y1="513.20" x2="834.30" y2="531.50" stroke="#2a2a2a" stroke-width="0.5" />
<line x1="770.50" y1="531.50" x2="834.30" y2="513.20" stroke="#2a2a2a" stroke-width="0.5" />
<line x1="770.50" y1="531.20" x2="834.30" y2="531.20" stroke="#666" stroke-width="0.5" />
<line x1="770.50" y1="532.60" x2="834.30" y2="532.60" stroke="#000" stroke-width="1.1" />
<line x1="770.50" y1="536.20" x2="834.30" y2="536.20" stroke="#9a9a9a" stroke-width="0.6" />
<line x1="848.50" y1="512.60" x2="912.60" y2="512.60" stroke="#111" stroke-width="1.1" />
<line x1="848.50" y1="513.20" x2="912.60" y2="531.50" stroke="#2a2a2a" stroke-width="0.5" />
<line x1="848.50" y1="531.50" x2="912.60" y2="513.20" stroke="#2a2a2a" stroke-width="0.5" />
<line x1="848.50" y1="531.20" x2="912.60" y2="531.20" stroke="#666" stroke-width="0.5" />
<line x1="848.50" y1="532.60" x2="912.60" y2="532.60" stroke="#000" stroke-width="1.1" />
<line x1="848.50" y1="536.20" x2="912.60" y2="536.20" stroke="#9a9a9a" stroke-width="0.6" />
<rect x="553.50" y="510.80" width="34.00" height="1.40" fill="#8a8a8a" />
<polygon points="567.10,513.40 568.50,510.20 572.50,510.20 573.90,513.40" fill="#000" stroke="none" stroke-width="0" />
<rect x="628.10" y="510.80" width="34.00" height="1.40" fill="#8a8a8a" />
<polygon points="641.70,513.40 643.10,510.20 647.10,510.20 648.50,513.40" fill="#000" stroke="none" stroke-width="0" />
<rect x="706.50" y="510.80" width="34.00" height="1.40" fill="#8a8a8a" />
<polygon points="720.10,513.40 721.50,510.20 725.50,510.20 726.90,513.40" fill="#000" stroke="none" stroke-width="0" />
<rect x="785.10" y="510.80" width="34.00" height="1.40" fill="#8a8a8a" />
<polygon points="798.70,513.40 800.10,510.20 804.10,510.20 805.50,513.40" fill="#000" stroke="none" stroke-width="0" />
<rect x="863.10" y="510.80" width="34.00" height="1.40" fill="#8a8a8a" />
<polygon points="876.70,513.40 878.10,510.20 882.10,510.20 883.50,513.40" fill="#000" stroke="none" stroke-width="0" />
<line x1="925.80" y1="532.60" x2="964.90" y2="532.60" stroke="#000" stroke-width="0.8" />
<line x1="978.90" y1="532.60" x2="1018.00" y2="532.60" stroke="#000" stroke-width="0.8" />
<rect x="924.5" y="522.4" width="42.0" height="4" fill="#fff" stroke="#555" stroke-width="0.5"/>
<rect x="977.2" y="522.4" width="42.39999999999998" height="4" fill="#fff" stroke="#555" stroke-width="0.5"/>
<rect x="927.5" y="450.4" width="36.2" height="72" fill="none" stroke="#777" stroke-width="0.5"/>
<rect x="980.2" y="450.4" width="36.6" height="72" fill="none" stroke="#777" stroke-width="0.5"/>
<line x1="921.00" y1="425.20" x2="970.20" y2="445.00" stroke="#2a2a2a" stroke-width="0.45" />
<line x1="921.00" y1="445.00" x2="970.20" y2="425.20" stroke="#2a2a2a" stroke-width="0.45" />
<line x1="974.30" y1="425.20" x2="1022.00" y2="445.00" stroke="#2a2a2a" stroke-width="0.45" />
<line x1="974.30" y1="445.00" x2="1022.00" y2="425.20" stroke="#2a2a2a" stroke-width="0.45" />
<rect x="912.20" y="443.60" width="5.40" height="6.60" fill="#000" />
<rect x="914.00" y="445.60" width="2.00" height="2.20" fill="#bbb" />
<g transform="matrix(0,1,1,0,661.7,450)" fill="none" stroke="#111" stroke-width="0.75">
<path d="M0,0 H12.25 V0 H24.5 V20.8 H0 Z M12.25,0 V9.5 M0,2.38 H12.25 M0,4.75 H12.25 M0,7.12 H12.25 M0,9.50 H12.25 M12.25,2.38 H24.5 M12.25,4.75 H24.5 M12.25,7.12 H24.5 M12.25,9.50 H24.5 M6.125,0 V9.5 M18.375,0 V9.5 M12.25,9.50 L0.00,14.59 M12.25,9.50 L0.00,19.11 M12.25,9.50 L3.19,20.80 M12.25,9.50 L7.35,20.80 M12.25,9.50 L10.54,20.80 M12.25,9.50 L13.96,20.80 M12.25,9.50 L17.15,20.80 M12.25,9.50 L21.32,20.80 M12.25,9.50 L24.50,19.11 M12.25,9.50 L24.50,14.59"/>
<circle cx="12.25" cy="9.50" r="1.1" fill="#111" stroke="none"/>
</g>
<g transform="matrix(0,1,-1,0,708.5999999999999,450)" fill="none" stroke="#111" stroke-width="0.75">
<path d="M0,0 H12.25 V0 H24.5 V20.3 H0 Z M12.25,0 V9.0 M0,3.00 H12.25 M0,6.00 H12.25 M0,9.00 H12.25 M12.25,3.00 H24.5 M12.25,6.00 H24.5 M12.25,9.00 H24.5 M6.125,0 V9.0 M18.375,0 V9.0 M12.25,9.00 L0.00,14.09 M12.25,9.00 L0.00,18.61 M12.25,9.00 L3.19,20.30 M12.25,9.00 L7.35,20.30 M12.25,9.00 L10.54,20.30 M12.25,9.00 L13.96,20.30 M12.25,9.00 L17.15,20.30 M12.25,9.00 L21.32,20.30 M12.25,9.00 L24.50,18.61 M12.25,9.00 L24.50,14.09"/>
<circle cx="12.25" cy="9.00" r="1.1" fill="#111" stroke="none"/>
</g>
<rect x="670.90" y="443.7" width="29.40" height="5.8" fill="#cdcdcd" stroke="#000" stroke-width="1.9"/>
<rect x="682.50" y="443.00" width="5.80" height="8.00" fill="#000" />
<path d="M672.5,448.5 Q676.5,444.5 680.5,448.5" fill="none" stroke="#555" stroke-width="0.4" />
<path d="M690.3,448.5 Q694.3,444.5 698.3,448.5" fill="none" stroke="#555" stroke-width="0.4" />
<g transform="matrix(0,1,1,0,817.8000000000001,450)" fill="none" stroke="#111" stroke-width="0.75">
<path d="M0,0 H12.25 V0 H24.5 V20.8 H0 Z M12.25,0 V9.5 M0,2.38 H12.25 M0,4.75 H12.25 M0,7.12 H12.25 M0,9.50 H12.25 M12.25,2.38 H24.5 M12.25,4.75 H24.5 M12.25,7.12 H24.5 M12.25,9.50 H24.5 M6.125,0 V9.5 M18.375,0 V9.5 M12.25,9.50 L0.00,14.59 M12.25,9.50 L0.00,19.11 M12.25,9.50 L3.19,20.80 M12.25,9.50 L7.35,20.80 M12.25,9.50 L10.54,20.80 M12.25,9.50 L13.96,20.80 M12.25,9.50 L17.15,20.80 M12.25,9.50 L21.32,20.80 M12.25,9.50 L24.50,19.11 M12.25,9.50 L24.50,14.59"/>
<circle cx="12.25" cy="9.50" r="1.1" fill="#111" stroke="none"/>
</g>
<g transform="matrix(0,1,-1,0,864.5,450)" fill="none" stroke="#111" stroke-width="0.75">
<path d="M0,0 H12.25 V0 H24.5 V20.3 H0 Z M12.25,0 V9.0 M0,3.00 H12.25 M0,6.00 H12.25 M0,9.00 H12.25 M12.25,3.00 H24.5 M12.25,6.00 H24.5 M12.25,9.00 H24.5 M6.125,0 V9.0 M18.375,0 V9.0 M12.25,9.00 L0.00,14.09 M12.25,9.00 L0.00,18.61 M12.25,9.00 L3.19,20.30 M12.25,9.00 L7.35,20.30 M12.25,9.00 L10.54,20.30 M12.25,9.00 L13.96,20.30 M12.25,9.00 L17.15,20.30 M12.25,9.00 L21.32,20.30 M12.25,9.00 L24.50,18.61 M12.25,9.00 L24.50,14.09"/>
<circle cx="12.25" cy="9.00" r="1.1" fill="#111" stroke="none"/>
</g>
<rect x="827.00" y="443.7" width="29.20" height="5.8" fill="#cdcdcd" stroke="#000" stroke-width="1.9"/>
<rect x="838.60" y="443.00" width="5.60" height="8.00" fill="#000" />
<path d="M828.6,448.5 Q832.6,444.5 836.6,448.5" fill="none" stroke="#555" stroke-width="0.4" />
<path d="M846.2,448.5 Q850.2,444.5 854.2,448.5" fill="none" stroke="#555" stroke-width="0.4" />
<rect x="755.3" y="444" width="5.6" height="5.6" fill="#cdcdcd" stroke="#000" stroke-width="1.1"/>
<g transform="matrix(1,0,0,1,952.2,321)" fill="none" stroke="#111" stroke-width="0.75">
<path d="M0,0 H12.25 V2.1 H24.5 V22.7 H0 Z M12.25,0 V10.7 M0,2.67 H12.25 M0,5.35 H12.25 M0,8.02 H12.25 M0,10.70 H12.25 M12.25,4.97 H24.5 M12.25,7.83 H24.5 M12.25,10.70 H24.5 M6.125,0 V10.7 M18.375,2.1 V10.7 M12.25,10.70 L0.00,16.10 M12.25,10.70 L0.00,20.90 M12.25,10.70 L3.19,22.70 M12.25,10.70 L7.35,22.70 M12.25,10.70 L10.54,22.70 M12.25,10.70 L13.96,22.70 M12.25,10.70 L17.15,22.70 M12.25,10.70 L21.32,22.70 M12.25,10.70 L24.50,20.90 M12.25,10.70 L24.50,16.10"/>
<circle cx="12.25" cy="10.70" r="1.1" fill="#111" stroke="none"/>
</g>
<g transform="matrix(1,0,0,-1,952.2,370.6)" fill="none" stroke="#111" stroke-width="0.75">
<path d="M0,0 H12.25 V1.9 H24.5 V22.4 H0 Z M12.25,0 V10.399999999999999 M0,2.60 H12.25 M0,5.20 H12.25 M0,7.80 H12.25 M0,10.40 H12.25 M12.25,4.73 H24.5 M12.25,7.57 H24.5 M12.25,10.40 H24.5 M6.125,0 V10.399999999999999 M18.375,1.9 V10.399999999999999 M12.25,10.40 L0.00,15.80 M12.25,10.40 L0.00,20.60 M12.25,10.40 L3.19,22.40 M12.25,10.40 L7.35,22.40 M12.25,10.40 L10.54,22.40 M12.25,10.40 L13.96,22.40 M12.25,10.40 L17.15,22.40 M12.25,10.40 L21.32,22.40 M12.25,10.40 L24.50,20.60 M12.25,10.40 L24.50,15.80"/>
<circle cx="12.25" cy="10.40" r="1.1" fill="#111" stroke="none"/>
</g>
<rect x="921.5" y="331.3" width="6" height="12.4" fill="#cdcdcd" stroke="#000" stroke-width="1.1"/>
<rect x="921.5" y="348.2" width="6" height="12.4" fill="#cdcdcd" stroke="#000" stroke-width="1.1"/>
<line x1="921.50" y1="331.30" x2="927.50" y2="343.70" stroke="#2a2a2a" stroke-width="0.4" />
<line x1="921.50" y1="343.70" x2="927.50" y2="331.30" stroke="#2a2a2a" stroke-width="0.4" />
<line x1="921.50" y1="348.20" x2="927.50" y2="360.60" stroke="#2a2a2a" stroke-width="0.4" />
<line x1="921.50" y1="360.60" x2="927.50" y2="348.20" stroke="#2a2a2a" stroke-width="0.4" />
<rect x="709.70" y="228.00" width="6.00" height="6.00" fill="#000" />
<rect x="787.70" y="228.00" width="6.00" height="6.00" fill="#000" />
<rect x="865.80" y="228.00" width="6.00" height="6.00" fill="#000" />
<rect x="943.60" y="228.00" width="6.00" height="6.00" fill="#000" />
<rect x="709.70" y="305.00" width="5.60" height="5.60" fill="#000" />
<rect x="787.70" y="305.00" width="5.60" height="5.60" fill="#000" />
<rect x="865.70" y="305.00" width="5.60" height="5.60" fill="#000" />
<rect x="682.60" y="381.40" width="5.60" height="5.60" fill="#000" />
<rect x="760.60" y="381.40" width="5.60" height="5.60" fill="#000" />
<rect x="838.60" y="381.40" width="5.60" height="5.60" fill="#000" />
<rect x="627.80" y="305.00" width="5.20" height="5.40" fill="#000" />
<rect x="597.00" y="381.50" width="5.30" height="5.30" fill="#000" />
<rect x="665.5" y="188" width="45.200000000000045" height="13" fill="none" stroke="#444" stroke-width="0.7"/>
<line x1="668.33" y1="188.00" x2="668.33" y2="201.00" stroke="#111" stroke-width="0.75" />
<line x1="671.15" y1="188.00" x2="671.15" y2="201.00" stroke="#111" stroke-width="0.75" />
<line x1="673.98" y1="188.00" x2="673.98" y2="201.00" stroke="#111" stroke-width="0.75" />
<line x1="676.80" y1="188.00" x2="676.80" y2="201.00" stroke="#111" stroke-width="0.75" />
<line x1="679.62" y1="188.00" x2="679.62" y2="201.00" stroke="#111" stroke-width="0.75" />
<line x1="682.45" y1="188.00" x2="682.45" y2="201.00" stroke="#111" stroke-width="0.75" />
<line x1="685.27" y1="188.00" x2="685.27" y2="201.00" stroke="#111" stroke-width="0.75" />
<line x1="688.10" y1="188.00" x2="688.10" y2="201.00" stroke="#111" stroke-width="0.75" />
<line x1="690.93" y1="188.00" x2="690.93" y2="201.00" stroke="#111" stroke-width="0.75" />
<line x1="693.75" y1="188.00" x2="693.75" y2="201.00" stroke="#111" stroke-width="0.75" />
<line x1="696.58" y1="188.00" x2="696.58" y2="201.00" stroke="#111" stroke-width="0.75" />
<line x1="699.40" y1="188.00" x2="699.40" y2="201.00" stroke="#111" stroke-width="0.75" />
<line x1="702.23" y1="188.00" x2="702.23" y2="201.00" stroke="#111" stroke-width="0.75" />
<line x1="705.05" y1="188.00" x2="705.05" y2="201.00" stroke="#111" stroke-width="0.75" />
<line x1="707.88" y1="188.00" x2="707.88" y2="201.00" stroke="#111" stroke-width="0.75" />
<line x1="665.50" y1="194.50" x2="710.70" y2="194.50" stroke="#666" stroke-width="0.4" />
<rect x="947.9" y="188" width="46.10000000000002" height="13" fill="none" stroke="#444" stroke-width="0.7"/>
<line x1="950.78" y1="188.00" x2="950.78" y2="201.00" stroke="#111" stroke-width="0.75" />
<line x1="953.66" y1="188.00" x2="953.66" y2="201.00" stroke="#111" stroke-width="0.75" />
<line x1="956.54" y1="188.00" x2="956.54" y2="201.00" stroke="#111" stroke-width="0.75" />
<line x1="959.42" y1="188.00" x2="959.42" y2="201.00" stroke="#111" stroke-width="0.75" />
<line x1="962.31" y1="188.00" x2="962.31" y2="201.00" stroke="#111" stroke-width="0.75" />
<line x1="965.19" y1="188.00" x2="965.19" y2="201.00" stroke="#111" stroke-width="0.75" />
<line x1="968.07" y1="188.00" x2="968.07" y2="201.00" stroke="#111" stroke-width="0.75" />
<line x1="970.95" y1="188.00" x2="970.95" y2="201.00" stroke="#111" stroke-width="0.75" />
<line x1="973.83" y1="188.00" x2="973.83" y2="201.00" stroke="#111" stroke-width="0.75" />
<line x1="976.71" y1="188.00" x2="976.71" y2="201.00" stroke="#111" stroke-width="0.75" />
<line x1="979.59" y1="188.00" x2="979.59" y2="201.00" stroke="#111" stroke-width="0.75" />
<line x1="982.48" y1="188.00" x2="982.48" y2="201.00" stroke="#111" stroke-width="0.75" />
<line x1="985.36" y1="188.00" x2="985.36" y2="201.00" stroke="#111" stroke-width="0.75" />
<line x1="988.24" y1="188.00" x2="988.24" y2="201.00" stroke="#111" stroke-width="0.75" />
<line x1="991.12" y1="188.00" x2="991.12" y2="201.00" stroke="#111" stroke-width="0.75" />
<line x1="947.90" y1="194.50" x2="994.00" y2="194.50" stroke="#666" stroke-width="0.4" />
<polyline points="696.00,215.50 711.60,215.50 711.60,188.00 948.00,188.00" fill="none" stroke="#444" stroke-width="0.9" />
<polyline points="947.40,201.00 947.40,215.60 1022.00,215.60" fill="none" stroke="#666" stroke-width="0.8" />
<polyline points="640.40,231.00 677.70,231.00 677.70,267.00" fill="none" stroke="#888" stroke-width="0.6" stroke-dasharray="3 2"/>
<rect x="593.1" y="253.2" width="22" height="11.3" fill="none" stroke="#888" stroke-width="0.6" stroke-dasharray="3 2"/>
<rect x="965.5" y="263.8" width="12.4" height="3.6" fill="#ccc" stroke="#000" stroke-width="0.9"/>
<rect x="-4.75" y="-4.75" width="9.5" height="9.5" transform="translate(556.6,233.4) rotate(38.6)"/>
<rect x="-4.5" y="-4.5" width="9" height="9" transform="translate(618,281.3) rotate(38.6)"/>
<rect x="-2.5" y="-2.5" width="5" height="5" transform="translate(577,332.9) rotate(38.6)"/>
<rect x="-2.5" y="-2.5" width="5" height="5" transform="translate(232.6,212) rotate(38.6)"/>
<rect x="203.00" y="196.20" width="5.00" height="5.00" fill="#000" />
<rect x="305.00" y="164.30" width="8.00" height="8.00" fill="#000" />
<rect x="474.40" y="201.80" width="9.00" height="9.00" fill="#000" />
<rect x="476.00" y="249.80" width="5.20" height="5.20" fill="#000" />
<g transform="translate(64.9,158.7) rotate(38.6)">
<path d="M278.3,-77 A11,11 0 0 0 289.3,-88 L278.3,-88" fill="none" stroke="#444" stroke-width="0.5" />
<path d="M278.3,-51.5 A11,11 0 0 0 289.3,-62.5 L278.3,-62.5" fill="none" stroke="#444" stroke-width="0.5" />
<path d="M278.3,-12.5 A11.5,11.5 0 0 0 289.8,-24 L278.3,-24" fill="none" stroke="#444" stroke-width="0.5" />
</g>
<text x="975.20" y="302.00" font-size="10.7" font-weight="bold" text-anchor="middle" fill="#000" >P2.9-2</text>
<text x="975.20" y="398.40" font-size="10.7" font-weight="bold" text-anchor="middle" fill="#000" >P2.10-2</text>
<text x="646.30" y="494.10" font-size="10.7" font-weight="bold" text-anchor="middle" fill="#000" >P0.4-2</text>
<text x="724.40" y="494.10" font-size="10.7" font-weight="bold" text-anchor="middle" fill="#000" >P0.3-2</text>
<text x="802.40" y="496.90" font-size="10.7" font-weight="bold" text-anchor="middle" fill="#000" >P0.2-2</text>
<text x="880.60" y="498.20" font-size="10.7" font-weight="bold" text-anchor="middle" fill="#000" >P0.1-2</text>
<text x="572.10" y="493.60" font-size="10.7" font-weight="bold" text-anchor="middle" fill="#000" >P0.5-2</text>
<text x="513.70" y="460.80" font-size="10.7" font-weight="bold" text-anchor="middle" fill="#000" >P0.6-2</text>
<text x="406.00" y="365.10" font-size="10.7" font-weight="bold" text-anchor="middle" fill="#000" >P0.8-2</text>
<text x="467.60" y="414.30" font-size="10.7" font-weight="bold" text-anchor="middle" fill="#000" >P0.7-2</text>
<text x="292.50" y="247.80" font-size="5.3" font-weight="normal" text-anchor="middle" fill="#111" stroke="#111" stroke-width="0.18">parking space</text>
<text x="831.00" y="216.10" font-size="5.3" font-weight="normal" text-anchor="middle" fill="#111" stroke="#111" stroke-width="0.18">parking space</text>
<text x="945.90" y="488.50" font-size="5.2" font-weight="normal" text-anchor="middle" fill="#111" stroke="#111" stroke-width="0.22">autolift</text>
<text x="998.20" y="488.50" font-size="5.2" font-weight="normal" text-anchor="middle" fill="#111" stroke="#111" stroke-width="0.22">autolift</text>
<path d="M914.5,617.15 H905.3 V628.15 H914.5 M905.3,622.65 H913.12 M921.4,617.15 V628.15 H929.0 M944.0,617.15 H935.1 V628.15 H944.0 M935.1,622.65 H942.6650000000001 M950.2,628.15 V617.15 L956.75,625.73 L963.3000000000001,617.15 V628.15 M979.1,617.15 H969.9 V628.15 H979.1 M969.9,622.65 H977.72 M985.7,628.15 V617.15 L996.0,628.15 V617.15 M1001,617.15 H1012.3 M1006.65,617.15 V628.15 M1026.5,619.35 C1025.165,616.6 1018.49,616.27 1018.312,619.9 C1018.312,622.65 1026.5,621.77 1026.5,625.29 C1026.5,629.03 1018.9350000000001,628.81 1017.422,625.9499999999999" fill="none" stroke="#000" stroke-width="1.9" stroke-linejoin="miter" stroke-miterlimit="1.5" stroke-linecap="butt"/>
<text x="935.00" y="641.60" font-size="8.2" font-weight="normal" text-anchor="start" fill="#111" letter-spacing="1.95">AMSTERDAM</text>
<text x="901.30" y="664.20" font-size="11" font-weight="bold" text-anchor="start" fill="#000" >Overzicht verdiepingen</text>
<text x="901.30" y="675.00" font-size="9" font-weight="normal" text-anchor="start" fill="#000" >1e verdieping</text>
<text x="901.30" y="695.50" font-size="9.05" font-weight="normal" text-anchor="start" fill="#000" >schaal 1: 200 - A3 formaat</text>
<text x="901.60" y="710.80" font-size="5.2" font-weight="bold" text-anchor="start" fill="#000" >1 meter</text>
<rect x="901.6" y="713" width="129.8" height="8" fill="#fff" stroke="#222" stroke-width="0.55"/>
<line x1="901.60" y1="716.70" x2="1031.40" y2="716.70" stroke="#000" stroke-width="0.6" />
<rect x="901.60" y="713.00" width="13.00" height="3.70" fill="#000" />
<rect x="927.60" y="713.00" width="13.00" height="3.70" fill="#000" />
<rect x="953.60" y="713.00" width="13.00" height="3.70" fill="#000" />
<rect x="979.60" y="713.00" width="13.00" height="3.70" fill="#000" />
<rect x="1005.60" y="713.00" width="13.00" height="3.70" fill="#000" />
<text x="966.50" y="727.80" font-size="5.2" font-weight="bold" text-anchor="middle" fill="#000" >10 meter</text>
<text x="903.70" y="738.80" font-size="5.5" font-weight="normal" text-anchor="start" fill="#222" font-style="italic">Maatvoering is indicatief en kan aan geringe</text>
<text x="903.70" y="745.40" font-size="5.5" font-weight="normal" text-anchor="start" fill="#222" font-style="italic">afwijkingen onderhevig zijn. Aan deze tekening</text>
<text x="903.70" y="752.00" font-size="5.5" font-weight="normal" text-anchor="start" fill="#222" font-style="italic">kunnen geen rechten worden ontleend.</text>
<polyline points="844.10,692.80 881.60,720.40 862.80,726.30 849.50,739.60 844.10,692.80 862.80,726.30" fill="none" stroke="#333" stroke-width="0.5" />
<text x="0" y="0" font-size="16" font-weight="bold" text-anchor="middle" stroke="#000" stroke-width="0.3" transform="translate(841.3,685.3) rotate(-33)">N</text>
<rect x="-4.5" y="-4.5" width="9" height="9" transform="translate(618,281.3) rotate(38.6)"/>
<rect x="627.80" y="305.00" width="5.20" height="5.40" fill="#000" />
<rect x="597.00" y="381.50" width="5.30" height="5.30" fill="#000" />
<rect x="474.40" y="201.80" width="9.00" height="9.00" fill="#000" />
<g transform="translate(64.9,158.7) rotate(38.6)">
<rect x="426.1" y="-150.4" width="9" height="9"/>
<rect x="349.6" y="-150.5" width="7" height="7"/>
<rect x="433.50" y="-141.00" width="8.00" height="16.00" fill="#000" />
</g>
</svg>
</body></html>
